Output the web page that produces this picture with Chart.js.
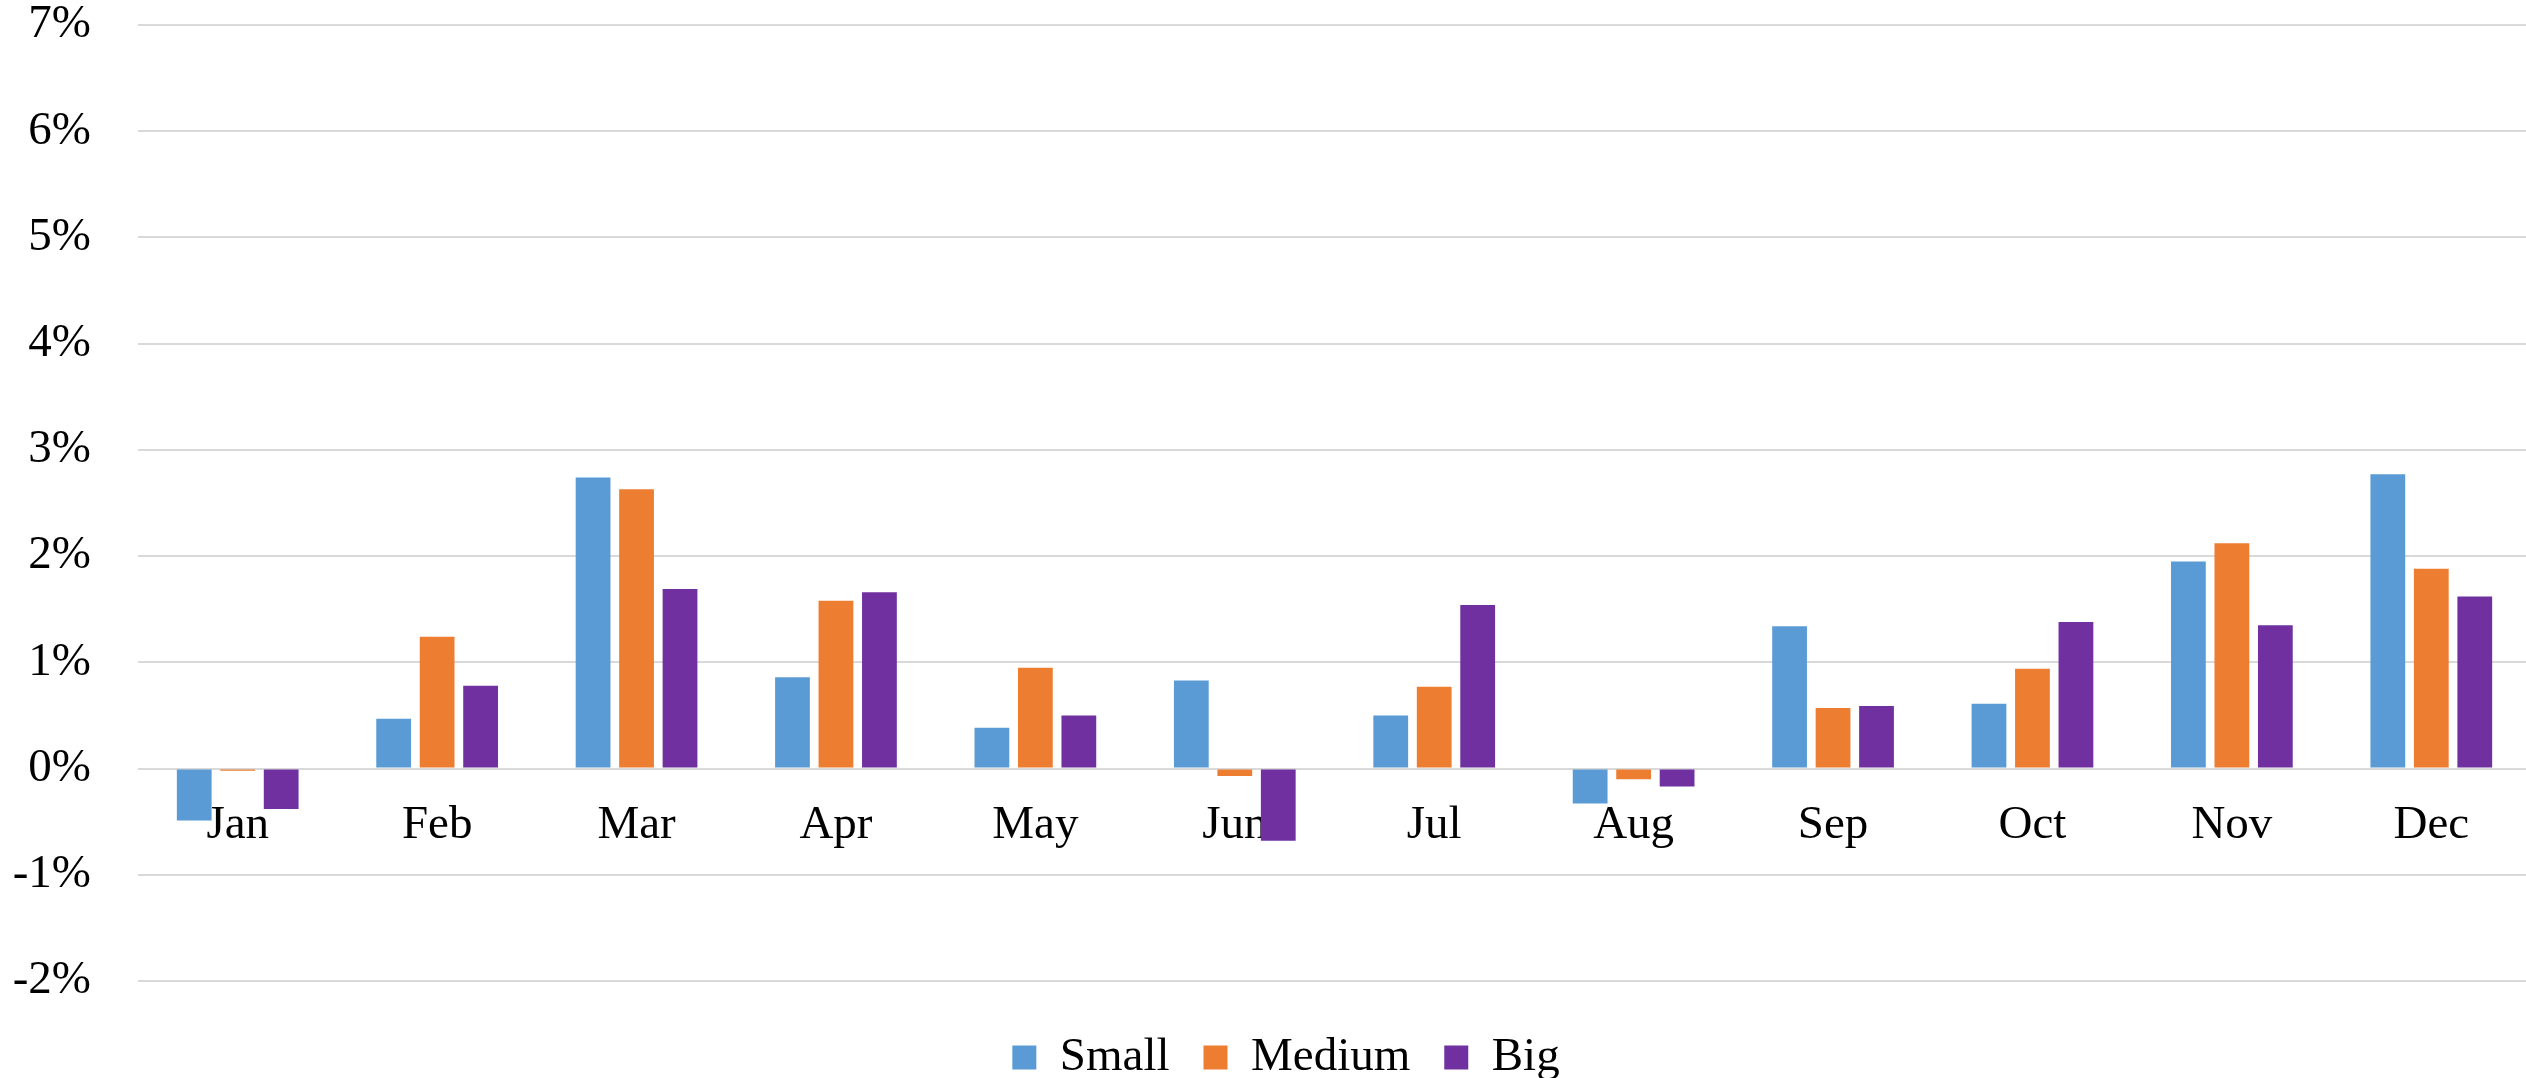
<!DOCTYPE html>
<html lang="en">
<head>
  <meta charset="UTF-8" />
  <title>Monthly returns by size</title>
  <script src="https://cdn.jsdelivr.net/npm/chart.js@4.4.1/dist/chart.umd.min.js"></script>
  <style>
    html,body{margin:0;padding:0;background:#fff;overflow:hidden}
    #wrap{width:2526px;height:1078px;overflow:hidden}
    canvas{display:block}
  </style>
</head>
<body>
  <div id="wrap"><canvas id="chart" width="2572" height="1091"></canvas></div>
  <script>
    const months = ['Jan', 'Feb', 'Mar', 'Apr', 'May', 'Jun', 'Jul', 'Aug', 'Sep', 'Oct', 'Nov', 'Dec'];

    // average monthly return, in percent
    const small  = [-0.49, 0.47, 2.74, 0.86, 0.385, 0.83, 0.50, -0.33, 1.34, 0.61, 1.95, 2.77];
    const medium = [-0.02, 1.24, 2.63, 1.58, 0.95, -0.07, 0.77, -0.10, 0.57, 0.94, 2.12, 1.88];
    const big    = [-0.38, 0.78, 1.69, 1.66, 0.50, -0.68, 1.54, -0.17, 0.59, 1.38, 1.35, 1.62];

    const yMin = -2;
    const yMax = 7;
    const yStep = 1;

    const FONT = '"Liberation Serif", "Times New Roman", serif';

    const bar = (label, data, color) => ({
      label, data,
      backgroundColor: color,
      borderWidth: 0,
      xAxisID: 'x', yAxisID: 'y',
      barPercentage: 0.8,
      categoryPercentage: 0.654
    });

    // blank spacer axes: reserve room without drawing anything
    const spacer = (axis, position, size) => ({
      type: axis === 'x' ? 'category' : 'linear',
      axis, position,
      grid: { display: false },
      border: { display: false },
      ticks: { display: false },
      afterFit: (s) => {
        if (axis === 'x') s.height = size; else s.width = size;
        s.paddingTop = s.paddingBottom = s.paddingLeft = s.paddingRight = 0;
      }
    });

    new Chart(document.getElementById('chart'), {
      type: 'bar',
      data: {
        labels: months,
        datasets: [
          bar('Small', small, '#5B9BD5'),
          bar('Medium', medium, '#ED7D31'),
          bar('Big', big, '#7030A0')
        ]
      },
      options: {
        responsive: false,
        animation: false,
        events: [],
        layout: { padding: { left: 0, top: 25, right: 0, bottom: 0 } },
        plugins: {
          tooltip: { enabled: false },
          legend: {
            position: 'bottom',
            labels: {
              boxWidth: 24,
              boxHeight: 24,
              padding: 34,
              color: '#000',
              font: { family: FONT, size: 47 }
            }
          }
        },
        scales: {
          x: {
            type: 'category',
            position: { y: 0 },
            grid: { display: false },
            border: { display: false },
            ticks: { color: '#000', padding: 21, font: { family: FONT, size: 47 } }
          },
          gapBottom: spacer('x', 'bottom', 19),
          gapRight: spacer('y', 'right', 41),
          y: {
            min: yMin,
            max: yMax,
            ticks: {
              stepSize: yStep,
              padding: 47,
              color: '#000',
              font: { family: FONT, size: 47, lineHeight: 1 },
              callback: (v) => v + '%'
            },
            grid: { color: '#d9d9d9', lineWidth: 2, drawTicks: false },
            border: { display: false },
            afterFit: (s) => {
              s.width = 138;
              s.paddingTop = 0;
              s.paddingBottom = 0;
            }
          }
        }
      }
    });
  </script>
</body>
</html>
